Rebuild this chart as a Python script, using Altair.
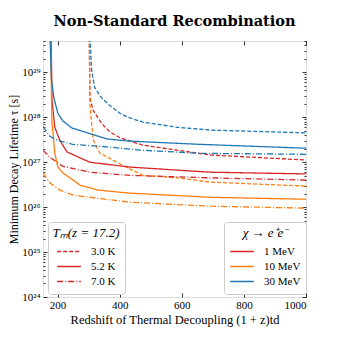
import altair as alt
import pandas as pd

# ---------------- data ----------------
x_lim = [153, 1000]
y_lim = [1e24, 5e29]

channels = ["1 MeV", "10 MeV", "30 MeV"]
temps = ["3.0 K", "5.2 K", "7.0 K"]
colors = ["#d62728", "#ff7f0e", "#1f77b4"]
dashes = [[4, 2], [1, 0], [6, 2, 1, 2]]

x_ticks = [200, 400, 600, 800, 1000]
y_major = [1e24, 1e25, 1e26, 1e27, 1e28, 1e29]
y_minor = [k * 10.0 ** e for e in range(24, 30) for k in range(2, 10) if k * 10.0 ** e <= 5e29]

# T_m = 3.0 K (dashed)
x_1mev_3 = [302, 304, 314, 343, 369, 401, 475, 585, 691, 1000]
y_1mev_3 = [8e29, 2.8e28, 1.45e28, 7.1e27, 4.7e27, 3.5e27, 2.4e27, 1.86e27, 1.45e27, 1.12e27]
x_10mev_3 = [302, 304, 310, 315, 336, 378, 427, 475, 585, 691, 1000]
y_10mev_3 = [8e29, 1.9e28, 6.8e27, 3.1e27, 1.6e27, 1.12e27, 7.4e26, 5.1e26, 4.5e26, 3.6e26, 2.95e26]
x_30mev_3 = [303, 310, 320, 342, 369, 401, 427, 475, 585, 691, 1000]
y_30mev_3 = [8e29, 1.07e29, 4.5e28, 2.7e28, 1.8e28, 1.23e28, 1.0e28, 7.8e27, 6.0e27, 5.2e27, 4.5e27]

# T_m = 5.2 K (solid)
x_1mev_52 = [179, 182, 191, 207, 230, 304, 433, 691, 1000]
y_1mev_52 = [8e29, 2.4e28, 6.0e27, 3.1e27, 1.7e27, 1.0e27, 7.8e26, 6.0e26, 5.5e26]
x_10mev_52 = [177, 181.6, 191, 201, 217, 272, 330, 433, 691, 1000]
y_10mev_52 = [8e29, 8.3e27, 1.6e27, 7.8e26, 5.8e26, 3.1e26, 2.4e26, 2.05e26, 1.66e26, 1.5e26]
x_30mev_52 = [175, 180, 188, 201, 217, 246, 359, 433, 659, 1000]
y_30mev_52 = [8e29, 7.4e28, 2.7e28, 1.23e28, 8.3e27, 5.8e27, 3.3e27, 2.95e27, 2.5e27, 2.05e27]

# T_m = 7.0 K (dash-dot)
x_1mev_7 = [153, 175, 217, 304, 433, 691, 1000]
y_1mev_7 = [1.86e27, 1.29e27, 8.1e26, 6.0e26, 5.1e26, 4.5e26, 4.0e26]
x_10mev_7 = [153, 175, 207, 249, 327, 433, 691, 1000]
y_10mev_7 = [5.8e26, 3.5e26, 2.4e26, 1.86e26, 1.58e26, 1.29e26, 1.05e26, 9.5e25]
x_30mev_7 = [153, 175, 198, 249, 359, 465, 659, 1000]
y_30mev_7 = [6.3e27, 3.8e27, 3.1e27, 2.5e27, 2.2e27, 1.86e27, 1.58e27, 1.5e27]

series = [
    ("1 MeV", "3.0 K", x_1mev_3, y_1mev_3),
    ("10 MeV", "3.0 K", x_10mev_3, y_10mev_3),
    ("30 MeV", "3.0 K", x_30mev_3, y_30mev_3),
    ("1 MeV", "5.2 K", x_1mev_52, y_1mev_52),
    ("10 MeV", "5.2 K", x_10mev_52, y_10mev_52),
    ("30 MeV", "5.2 K", x_30mev_52, y_30mev_52),
    ("1 MeV", "7.0 K", x_1mev_7, y_1mev_7),
    ("10 MeV", "7.0 K", x_10mev_7, y_10mev_7),
    ("30 MeV", "7.0 K", x_30mev_7, y_30mev_7),
]

rows = []
for ch, t, xs, ys in series:
    for xv, yv in zip(xs, ys):
        rows.append({"x": xv, "y": yv, "channel": ch, "temp": t, "series": ch + " " + t})
df = pd.DataFrame(rows)

# ---------------- styling ----------------
W, H = 263, 256
SERIF = "Liberation Serif"
sup = str.maketrans("0123456789", "⁰¹²³⁴⁵⁶⁷⁸⁹")
label_expr = " : ".join(
    f"datum.value < {1.5 * 10.0 ** e} ? '10{str(e).translate(sup)}'" for e in range(24, 30)
) + " : ''"

xscale = alt.Scale(domain=x_lim, nice=False, zero=False)
yscale = alt.Scale(type="log", domain=y_lim, nice=False)


def tick_axis(orient, offset, values, size):
    return alt.Axis(orient=orient, offset=offset, values=values, labels=False,
                    domain=False, grid=False, title=None, ticks=True,
                    tickSize=size, tickColor="black", tickWidth=0.8)


def legend(title, x, **kw):
    return alt.Legend(
        title=title, orient="none", legendX=x, legendY=181,
        symbolType="stroke", symbolSize=560, symbolStrokeWidth=1.5,
        fillColor="white", strokeColor="#cccccc", cornerRadius=3,
        padding=5, rowPadding=0, clipHeight=15, labelOffset=9,
        labelFont=SERIF, labelFontSize=11, labelColor="black",
        titleFont=SERIF, titleFontSize=13, titleFontWeight="normal",
        titleFontStyle="italic", titleColor="black", titleAnchor="middle",
        titlePadding=4, **kw)


base = alt.Chart(df)

lines = base.mark_line(clip=True, strokeWidth=1.3).encode(
    x=alt.X("x:Q", scale=xscale, axis=alt.Axis(
        orient="bottom", values=x_ticks, format="d", ticks=False, tickSize=0, domain=False,
        grid=False, labelFont=SERIF, labelFontSize=11, labelColor="black", labelPadding=2,
        title="Redshift of Thermal Decoupling (1 + z)td", titleFont=SERIF,
        titleFontSize=12.5, titleFontWeight="normal", titleColor="black", titlePadding=3)),
    y=alt.Y("y:Q", scale=yscale, axis=alt.Axis(
        orient="left", values=y_major, labelExpr=label_expr, ticks=False, tickSize=0,
        domain=False, grid=False, labelFont=SERIF, labelFontSize=11, labelColor="black",
        labelPadding=3, title="Minimum Decay Lifetime τ [s]", titleFont=SERIF,
        titleFontSize=12, titleFontWeight="normal", titleColor="black", titlePadding=1)),
    color=alt.Color("channel:N", scale=alt.Scale(domain=channels, range=colors),
                    legend=legend("χ → e⁺e⁻", 181)),
    strokeDash=alt.StrokeDash("temp:N", scale=alt.Scale(domain=temps, range=dashes),
                              legend=legend("Tₘ(z = 17.2)", 5, symbolStrokeColor="#d62728")),
    detail="series:N",
)

inv = base.mark_point(opacity=0)
t1 = inv.encode(x=alt.X("x:Q", scale=xscale, axis=tick_axis("top", -H, x_ticks, 4)),
                y=alt.Y("y:Q", scale=yscale, axis=tick_axis("right", -W, y_major, 4)))
t2 = inv.encode(x=alt.X("x:Q", scale=xscale, axis=tick_axis("bottom", -H, x_ticks, 4)),
                y=alt.Y("y:Q", scale=yscale, axis=tick_axis("right", -W, y_minor, 2)))
t3 = inv.encode(x=alt.X("x:Q", scale=xscale, axis=None),
                y=alt.Y("y:Q", scale=yscale, axis=tick_axis("left", -W, y_major, 4)))
t4 = inv.encode(x=alt.X("x:Q", scale=xscale, axis=None),
                y=alt.Y("y:Q", scale=yscale, axis=tick_axis("left", -W, y_minor, 2)))

chart = alt.layer(lines, t1, t2, t3, t4).resolve_axis(
    x="independent", y="independent"
).properties(
    width=W, height=H,
    title=alt.TitleParams("Non-Standard Recombination", font="DejaVu Serif", fontSize=14.5,
                          fontWeight="bold", color="black", anchor="middle", offset=10, dy=10),
    autosize=alt.AutoSizeParams(type="none"),
    padding={"left": 35, "top": 33, "right": 26, "bottom": 30},
).configure_view(stroke="black", strokeWidth=1.2).configure(background="white")

chart.save("out.html", embed_options={"renderer": "svg", "actions": False})
